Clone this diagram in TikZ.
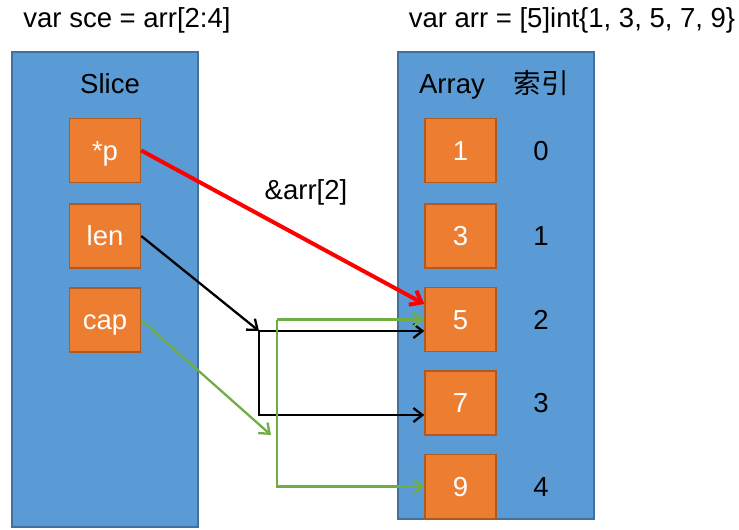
\documentclass[tikz,border=0pt]{standalone}
\usepackage{fontspec}
\setmainfont{Liberation Sans}
\newfontfamily\cjk{Noto Sans CJK SC}
\usetikzlibrary{arrows.meta}

\definecolor{panelblue}{HTML}{5B9BD5}
\definecolor{paneledge}{HTML}{41719C}
\definecolor{cellorange}{HTML}{ED7D31}
\definecolor{celledge}{HTML}{AE5A21}
\definecolor{ptrgreen}{HTML}{70AD47}

\tikzset{
  panel/.style={fill=panelblue, draw=paneledge, line width=1.5pt},
  cell/.style={fill=cellorange, draw=celledge, line width=1.5pt, text=white,
    minimum width=71pt, minimum height=64pt, inner sep=0pt,
    text height=24.5pt, text depth=5.5pt},
  txt/.style={inner sep=0pt, text height=24.5pt, text depth=5.5pt},
  ptr/.style={line width=2.3pt, -{Straight Barb[length=9pt,width=14pt,line width=2.3pt]}},
}

\begin{document}
\begin{tikzpicture}[%
x=1pt, y=-1pt,
font=\fontsize{27.5}{32}\selectfont,
]
\useasboundingbox (0,0) rectangle (739,530);
%% titles;
\node[txt] (sctitle) at (127,18) {var sce = arr[2:4]};
\node[txt] (artitle) at (572,18) {var arr = [5]int\{1, 3, 5, 7, 9\}};
%% panels;
\draw[panel] (12,52) rectangle (198,527);
\draw[panel] (398,52) rectangle (594,519);
\node[txt] (slicelbl) at (110,84) {Slice};
\node[txt] (arraylbl) at (452,84) {Array};
\node[txt] (idxlbl) at (541,84) {\cjk 索引};
%% slice fields;
\node[cell] (p) at (105,150.5) {*p};
\node[cell] (len) at (105,236) {len};
\node[cell] (cap) at (105,320) {cap};
%% array cells;
\foreach \v/\y [count=\i from 0] in {1/150.5, 3/236, 5/319.5, 7/403, 9/486.5} {
  \node[cell] (v\i) at (460.5,\y) {\v};
  \node[txt] (idx\i) at (541,\y) {\i};
}
%% label;
\node[txt] (addr) at (306,190) {\&arr[2]};
%% pointer;
\draw[ptr, red, line width=4pt, -{Straight Barb[length=10pt,width=16pt,line width=4pt]}]
  (p.east) -- ([yshift=15.5pt]v2.west);
%% len;
\coordinate (lenhit) at (259,331);
\coordinate (lenlow) at (259,415);
\draw[ptr, black] (len.east) -- (lenhit);
\draw[ptr, black] (lenhit) -- (lenhit -| v2.west);
\draw[ptr, black] (lenhit) -- (lenlow) -- (lenlow -| v3.west);
%% cap;
\coordinate (caphit) at (271,435);
\coordinate (captop) at (277,319.5);
\coordinate (caplow) at (277,486.5);
\draw[ptr, ptrgreen] (cap.east) -- (caphit);
\draw[ptr, ptrgreen] (captop) -- (v2.west);
\draw[ptr, ptrgreen] (captop) -- (caplow) -- (v4.west);
\end{tikzpicture}
\end{document}
